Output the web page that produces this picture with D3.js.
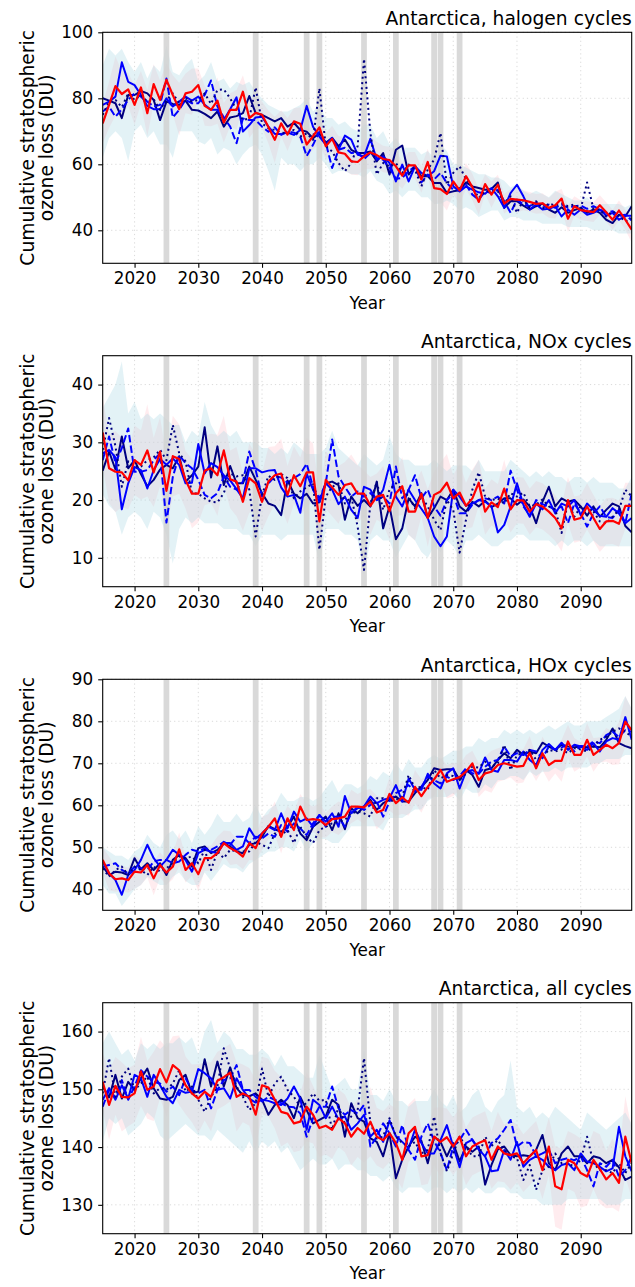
<!DOCTYPE html>
<html>
<head>
<meta charset="utf-8">
<script src="https://cdn.jsdelivr.net/npm/d3@7"></script>
<style>
  body { margin: 0; background: #fff; }
  svg { display: block; font-family: "DejaVu Sans", sans-serif; }
</style>
</head>
<body>
<svg id="chart" width="635" height="1287"></svg>
<script>
// ---------------------------------------------------------------
// Cumulative stratospheric ozone loss over Antarctica, 2015-2098
// ---------------------------------------------------------------
const startYear = 2015, endYear = 2098;
const years = d3.range(startYear, endYear + 1);
const xTickValues = [2020, 2030, 2040, 2050, 2060, 2070, 2080, 2090];
const eventYears = [2025, 2039, 2047, 2049, 2056, 2061, 2067, 2068, 2071];

const titles = ["Antarctica, halogen cycles", "Antarctica, NOx cycles",
                "Antarctica, HOx cycles", "Antarctica, all cycles"];
const yDomains = [[30, 100], [5, 45], [35, 90], [125, 165]];
const yTickValues = [[40, 60, 80, 100], [10, 20, 30, 40],
                     [40, 50, 60, 70, 80, 90], [130, 140, 150, 160]];

// ---- halogen cycles ----
const haloNavy = [80,79.3,78.5,74,81,81,82.2,81.5,79.5,73.4,
  79,78.3,78,79.3,76.5,76.3,75.3,74,76,71.4,
  74.2,74.6,75.5,80.7,75.5,75,74,73,74,71.4,
  72.6,70.4,69.9,67.9,69.4,66.5,68,65.5,67.5,64.4,
  63.4,63.4,63.9,60.9,63.4,56.9,64.4,65.7,56.9,59.4,
  56.4,56.4,54.3,54.3,51.3,51.8,52.1,54.5,53.3,52.8,
  52.3,52.5,54.5,46.8,48.8,48.8,47.5,46.3,47.3,48.1,
  46.3,45.3,47,45.3,46.1,46.8,45.3,46.3,45.3,43.2,
  42.2,44.7,44.2,47.3];
const haloBlue = [78,79,80.5,90.9,85,84,81,77.7,76.7,76.7,
  80,77.5,79,80.5,79.3,80.5,78,76.5,76.5,73.4,
  76.7,80.3,69.9,71.9,74.2,74.4,71.4,69.2,69.2,69.6,
  68.9,70.4,77.7,71.4,68.4,66,68,64.4,68.7,67.5,
  62.9,62.4,67.7,61.4,62.4,60.4,54.8,59.9,54.8,59.4,
  57.4,56.4,57.9,62.6,62.4,53.3,51.8,53.3,52.3,51.5,
  51.1,52.8,50.3,46.8,51.3,53.8,50.3,46.3,47.8,46.3,
  46.5,47.3,44.2,46.3,44.7,46.3,44.7,45.3,46.3,44.4,
  45.3,43.2,44.4,44.4];
const haloDashed = [76,77.5,74.4,76.7,79.5,81.5,80.5,79,77.5,78,
  86,74.2,76.5,79.5,78.5,78.5,81,85.4,77.5,74.2,
  71.4,66.4,73.9,73.4,73.4,71.4,69.9,71.2,68.9,69.9,
  69.6,68.4,62.5,65.9,69.9,66.5,58.9,64.4,65,63.4,
  63.6,61.6,63.4,61.9,61.4,58.9,55.6,55.9,57.9,59.4,
  54.5,56.9,55.4,57.4,54.3,52.3,52.8,53.8,50.8,49.3,
  51.8,51.3,52.3,48.8,45.3,49.3,47.8,47.3,48.5,46.8,
  47.8,46.8,47.8,46.8,47.3,47.5,46.5,47.3,46.3,45.3,
  45.8,44.4,44.7,43];
const haloDotted = [75,79,79.5,77.3,81.5,79.5,81,79,79.7,76.5,
  79.5,81.5,78.5,80,79,79.5,81.5,78.3,82.5,82.7,
  80,76.5,73.4,73.9,83.3,72.4,70.9,70.4,69.6,69.4,
  70.4,68.4,69.4,67.4,83,65.5,63.9,60.4,57.9,60.4,
  65.5,91.9,69.5,56.9,60.4,59.4,60.4,57.4,59.9,58.4,
  53.3,58.4,61.4,69.5,53.8,57.4,59.4,55.4,53.3,49.8,
  51.8,51.8,51.8,48.3,50.3,45.3,49.3,46.8,48.8,46.5,
  48.1,47.5,48.1,47.3,47.8,46.5,54.5,46.5,46.3,44.2,
  45.8,44.4,42.7,43.7];
const haloRed = [72.4,78,83.7,81.3,82.7,78,83.3,75.5,84.3,79.5,
  85.6,81,76.7,81.5,82,84,77.7,76.5,79.3,72.6,
  76.5,76.5,82,74,75.6,75,71.3,67.4,72.4,69,
  73,72.3,66,68.5,71.2,65.5,67.7,63.6,63.2,60.9,
  60.7,62.4,63.6,62.8,61.6,61.3,59.4,56.6,59.7,59.7,
  55.4,60.7,52.8,52.5,51,54.8,52.1,56.4,53.1,48.6,
  54,50.8,53.8,48.1,49.5,49.3,49.1,48.6,48,48.2,
  46.8,47.6,49.6,43.5,47.3,46.1,45.8,45.5,47.6,45.5,
  43.2,46,43.2,40.2];
const haloRedSpread = [6,7,9,7,5,6,5,7,6,6, 5,6,8,6,7,5,6,5,7,6,
  5,6,5,6,5,4,5,7,4,5, 4,5,4,4,5,4,4,5,5,4, 4,4,5,4,4,4,5,4,4,4,
  4,4,5,4,5,4,4,4,4,4, 3,4,3,3,3,4,3,3,3,3, 3,4,3,4,3,3,3,3,3,3, 3,3,3,4];
const haloBandHi = [90,95,93,95,91,88,91,86,90,88, 96,88,87,90,92,85,87,91,85,86,
  83,85,84,85,82,80,78,77,76,76, 77,78,80,76,78,74,74,72,73,71,
  70,72,72,68,70,66,68,65,65,65, 63,64,62,66,64,60,60,59,58,57,
  57,56,56,55,53,54,52,51,52,51, 50,52,51,50,49,49,50,48,48,48, 48,48,47,48];
const haloBandLo = [62,68,70,68,61,70,72,68,70,66, 66,62,70,70,70,67,66,68,63,65,
  64,60,63,65,66,63,58,52,62,60, 60,58,60,60,62,60,57,58,58,57,
  57,56,58,55,54,51,52,50,52,52, 50,50,48,48,49,48,46,47,46,44,
  45,46,46,43,44,44,43,43,43,42, 42,42,42,41,41,41,41,40,40,40, 40,39,39,39];

// ---- NOx cycles ----
const noxNavy = [25.1,28.4,25.3,31,25.5,26.9,24.5,22.4,23.5,25.3,
  26.1,25.5,27.6,23.2,24.3,25.8,32.6,23.9,29.3,22.6,
  25.9,22.9,22.9,25.8,23.5,21.2,19.4,19,17.4,23.4,
  21.1,20.3,21.1,19.4,19.6,22.9,23.2,22.6,16.6,20.6,
  19,20,18.9,23.2,15.1,18.9,13.2,15.1,20.3,18.9,
  21.2,16.9,18.6,20.6,20,21.8,18.9,18,19.7,18.9,
  19.9,18.8,19.4,20.3,20.3,19.2,20.1,18.9,16,19.7,
  22.3,18.9,20.3,19.7,20,18.9,17.3,18.9,17.1,18.3,
  19.4,18.9,15.5,14.4];
const noxBlue = [28.1,28.7,27.4,18.4,22.9,25.7,25.2,22,25.2,27.1,
  26.1,27.2,26.1,22.9,23,29.7,24.6,26.4,25.7,24.3,
  23.4,21.9,20.3,25.5,25.5,24.8,25.1,25.2,22.2,20.6,
  20.9,17.8,24.6,21.8,19.7,22.9,21.8,19.3,20.6,18.3,
  16.9,22.3,21.8,20,21.8,26.1,20.6,18.9,21.8,20,
  18.5,16.9,13.7,12,13.7,21.8,20.6,19,19.4,20,
  19.7,18.9,14.4,15.7,18.9,22.9,19.2,17.1,19.4,18.4,
  20,17.7,19.4,18.9,20,17.4,19.4,18.3,17.3,17.1,
  18.6,17.7,16,16.9];
const noxDashed = [26.9,31,26.4,29,32.4,24.9,24.9,25.2,26.9,28.1,
  16.1,24,27.8,26.4,25.5,23.5,20.9,20.3,21.2,24.1,
  22.3,21.8,23.2,28.4,25.2,20.6,22.9,24.1,23.9,23,
  23.8,24.5,26.3,22.3,20.3,22.9,30.5,24.1,22.3,20.6,
  21.5,20.6,21.2,20,20.6,19.4,25.8,20.3,21.8,24.3,
  20.3,21.8,18.9,17.3,20,21.1,17.7,17.7,19.2,20,
  20.3,20,20.6,19.4,25.1,21.8,18.9,17.4,20,19.3,
  18.9,18.3,18.9,16,19.4,17.7,15.4,17.7,18.9,17.1,
  16.9,18.3,16,21.2];
const noxDotted = [28.7,34.2,29.3,22.3,26.7,25.8,25.8,26.9,27.4,28.7,
  26.9,33,28.1,26.7,21.2,21.1,20.3,19.7,19.6,21.2,
  24.6,24.1,24.3,21.8,13.7,20.9,24.2,23.5,24.5,23.8,
  20.3,21.5,22.2,22.9,11.4,20.6,22.3,22.9,19.4,20.6,
  15.4,7.9,19.4,23.2,18.3,21.8,22.9,21.8,20.6,18.6,
  20.6,18.9,16.6,14.8,20,18.3,10.9,16.6,21.8,24.8,
  20.6,20,20.3,19.4,21.2,20.6,21.3,18.9,19.2,20.1,
  18.9,18.4,14.3,19.7,17.1,18.9,18.3,18,16.3,16,
  17.1,18.3,21.8,20.6];
const noxRed = [31.7,25.5,24.9,24.8,23.4,26.9,26.1,28.6,24.8,28.4,
  21.6,27.6,27.1,23.5,21.1,21.1,25.1,25.5,24.3,28.6,
  23.6,23.2,19.7,23.8,22.9,19.7,23.2,24.3,24.6,20.9,
  24.3,22.4,24.8,24.8,16.3,23.5,22.2,20.9,22.6,22.9,
  21.1,21.1,19,20.6,20.9,18.1,21.2,22.4,18,18,
  21.1,16.9,20.9,21.5,23,20.3,21.3,19,20.3,23,
  18,19.6,18.8,22,18.4,20,19.9,18,19.3,18.9,
  18,16.9,15.1,20,16.6,16.9,18.9,16.9,15,16.3,
  16.4,15.9,19,19];
const noxRedSpread = [6,6,7,6,5,6,6,8,6,6, 6,7,6,5,6,5,6,6,7,6,
  5,6,5,6,5,5,6,5,6,5, 5,5,6,5,5,5,5,5,4,5, 5,4,5,4,5,5,4,5,4,5,
  4,5,4,5,5,4,5,4,5,4, 4,4,4,5,4,4,4,4,4,4, 4,4,4,4,4,4,4,4,4,4, 4,4,4,4];
const noxBandHi = [36,38,40,44,35,37,34,35,34,35, 34,33,33,30,32,31,37,33,31,32,
  31,32,30,30,30,29,29,28,29,28, 30,29,28,28,28,29,32,29,28,27,
  26,28,27,26,27,31,28,27,27,26, 26,26,27,26,25,26,26,26,25,27,
  25,25,25,25,27,26,25,24,25,24, 25,24,24,23,24,24,23,24,23,23, 23,22,22,24];
const noxBandLo = [21,19,18,14,17,18,17,15,18,17, 14,9,15,17,16,17,16,16,16,15,
  15,15,14,14,12,14,14,14,13,14, 14,14,14,14,9,15,15,15,14,14,
  13,7,13,14,13,13,10,12,14,13, 11,10,12,11,13,12,10,13,13,14,
  13,12,12,13,13,14,14,13,13,13, 13,12,13,12,13,13,12,13,12,12, 12,12,12,12];

// ---- HOx cycles ----
const hoxNavy = [45.4,43.4,44.2,44,43.4,47.4,44.8,46.2,44.6,46.2,
  43.4,47,48.2,47.4,45.4,49.8,50.2,48.6,49.4,51,
  50.2,49,48.6,50.6,51,52.5,55.1,54.3,53.7,54.9,
  57.3,53.3,51.7,54.9,56.1,57.3,54.1,58.1,54.3,59.3,
  58.1,59.7,61.3,58.9,60.5,61.3,62.1,60.9,60.9,62.9,
  64.4,66,68.8,68.4,68.6,68.6,66,68.4,67.2,64.4,
  68.4,68.8,70.8,72.4,71.2,73.2,72,72.8,72.4,74.9,
  74,73.2,74.4,74,73.8,74,73.8,74,73.8,75.6,
  78.3,74.8,74.1,73.6];
const hoxBlue = [46.6,43.8,42.2,38.7,43.4,44.6,47,50.6,47.4,45.4,
  47,49.4,48.2,47,44.2,48.6,49.4,49,48.6,51,
  51,49.4,50.2,54.5,52.1,53.3,54.9,54.1,58.1,54.5,
  58.5,56.1,56.9,54.9,57.7,56.1,58.1,54.9,62.2,58.1,
  59.3,59.7,62.1,60.5,61.3,61.7,64.8,60.9,66.4,63.7,
  63.7,67.5,65.2,64,67.6,68.8,64,68,68.4,67.6,
  71.4,68.4,68,70.8,70.8,70.4,72.8,70.8,69.6,73.2,
  74.6,73.2,74.9,73.2,74.4,74,73.2,74.8,72.8,75.2,
  76,75.6,81,75.6];
const hoxDashed = [45.4,45.8,46.2,44.6,43.8,45.4,45,44.6,46.6,47,
  47,46.2,46.6,48.2,49.4,49,49.8,49.4,50.2,51.3,
  50.6,52.5,52.5,51,52.5,52.1,53.3,52.5,55.3,53.7,
  55.7,54.5,52.9,55.7,57.7,54.9,57.3,57.3,54.9,58.1,
  59.7,58.9,60.1,60.9,57.3,60.9,62.9,63.7,64.8,63.3,
  64.4,66.8,66,65.2,66.8,66,67,68.8,67.6,67.5,
  69.2,70.4,70.8,74,71.6,72.4,72,73.2,72.8,71.2,
  74,73.2,73.8,74.4,72.8,74.1,74,75.2,74.8,76.7,
  77.5,76.3,77.9,77.5];
const hoxDotted = [45,43,44.6,45.4,43.4,45.4,44.6,43.4,45.4,44.2,
  45,46.2,47.8,47.4,47.8,46.2,49.4,44.6,49,47.4,
  49.4,49,49,49,51.3,50.6,49.8,53.3,52.9,54.1,
  51,54.9,52.5,51,54.1,54.9,55.7,56.1,56.5,58.1,
  58.5,58.1,57.3,61.7,61.7,60.9,61.3,62.1,67.2,64,
  64.4,63.7,68.4,66.4,67.2,67,66,67.6,69.2,69,
  70.4,69.2,70,74.4,68.4,72,72.4,73.2,70.8,71.6,
  73.2,72.8,73.3,72.4,73.6,73.3,72.8,74,75.6,76.3,
  77.5,78.3,77.5,76.3];
const hoxRed = [47,43.8,42.4,42.6,42.2,44.2,44,45.8,42.6,45.8,
  44,45.4,49.5,44.6,46.2,43.6,47.4,47.4,48.6,51,
  49.8,49,47.8,51,49.8,53.3,54.9,56.9,52.5,56.9,
  54.1,59.7,56.5,56.7,56.5,55.3,56.7,56.9,57.3,59.7,
  59.7,59.5,60.9,58.3,58.9,62.7,60.5,61.9,60.6,64.4,
  62.2,64.4,66.2,68.4,65.6,66.2,66.7,68,70,66,
  67.6,68,69.6,70,69.6,69.2,69.4,72.5,68.8,72.4,
  69.6,70.6,70.6,75.2,72,72,75.6,72,73.2,74.4,
  73.6,74.8,79.9,77.9];
const hoxRedSpread = [3,4,3,3,3,4,3,3,4,3, 3,3,4,3,3,4,3,3,4,3,
  4,3,3,4,3,4,3,4,4,3, 4,3,4,3,4,3,3,4,3,4, 3,4,3,4,3,4,3,4,3,4,
  4,3,4,3,4,4,3,4,3,4, 4,5,4,4,3,4,4,4,3,4, 4,3,5,4,4,3,4,4,3,4, 4,5,6,5];
const hoxBandHi = [50,49,48,48,47,49,50,53,51,50, 53,54,52,54,51,55,53,55,58,56,
  56,58,56,57,60,57,59,60,63,61, 61,62,62,61,62,64,66,63,65,65,
  64,65,67,66,68,67,70,68,71,69, 69,71,72,71,72,73,73,74,74,76,
  75,76,76,78,77,78,77,78,77,78, 79,78,79,80,79,79,80,80,80,81, 82,83,86,83];
const hoxBandLo = [41,39,39,36,38,40,41,43,42,41, 41,43,44,42,41,41,44,42,44,46,
  45,45,44,46,47,48,49,49,50,50, 49,52,49,51,52,52,51,51,53,55,
  55,55,55,55,54,57,57,57,58,59, 59,61,62,62,62,63,61,64,63,63,
  65,64,66,66,67,67,66,68,67,68, 68,69,68,69,69,69,69,70,70,71, 71,71,72,72];

// ---- all cycles ----
const allNavy = [150.5,148.6,152.5,148.4,151.3,149.9,151.9,153.6,150.2,148.4,
  148.2,148.7,151.6,152.5,149.3,149.6,155.2,150.5,154.8,150.5,
  153.8,150.2,149,148.8,149.3,148.2,145.6,147.3,148.2,147.3,
  145,148.7,146.4,144.1,144.7,145.3,148.2,147.3,141.8,147.6,
  145,144.4,141.5,140.9,138.4,142.4,134.6,137.8,140.1,141.8,
  141.1,137.2,141.8,140.9,138.4,140.7,137.5,140.1,139.2,140.1,
  133.5,136.9,139.6,140.1,138.6,138.4,138.6,138.4,139.5,142.1,
  137.2,136,138.9,140.1,138.4,138.4,137.2,138.4,138.1,137.2,
  137.8,136.5,134.3,134.9];
const allBlue = [148.2,150.2,148.2,150.7,148.4,152.5,151.9,148.7,152.5,150.7,
  148.7,147.6,149.9,149.4,149.6,153.5,152.8,151.9,149.9,150.2,
  148.4,151.9,149.9,148.4,147.7,148.2,148,147.6,147.3,148.4,
  150.5,148.4,143,148.2,147.3,145,147,144.8,145.3,143,
  144.1,145.6,141.8,143,140.9,144.6,141.9,140.9,139.8,143,
  140.7,138.9,138.9,141.2,143.8,140.1,136.5,140.7,141.3,139.6,
  138.4,135.8,136,139.5,137.8,140.9,136.6,137.8,138.4,137.8,
  136.6,136,136.9,137.2,136,138.9,137.5,137.2,136.6,135.8,
  136.3,143.5,138.4,135.8];
const allDashed = [147,149.9,148.6,151.6,148.2,150.5,153.3,152.2,151.3,151,
  149.6,150.5,149,151.9,149.9,149.3,149.9,146.7,149.9,151.6,
  151.9,154.2,149.9,149.9,148.7,147.9,148.7,148.2,147.6,147,
  146.9,145.8,141.8,145,147,147,150.5,146.7,145.6,146.4,
  145.8,147.3,140.1,141.8,144.1,142.4,140.1,143.8,139.5,137.8,
  141.8,144.1,141,139,136,140.1,141.2,143,141.2,139.6,
  138.4,140.7,141.5,143,144.7,140.1,140.9,140.7,138.4,138.9,
  139.5,137.2,137.8,138.1,137.7,138.4,136,133.2,137.2,136.6,
  137.8,134.9,136,138.4];
const allDotted = [149.3,155.4,148.7,152.2,153.6,149.9,151,152.2,149.3,150.2,
  149.9,151,153.3,149.6,150.5,148.2,146.1,148.7,150.5,157.1,
  153.6,150.5,148.7,146.4,147.6,153.6,148.7,151,152.2,149.9,
  148.7,147,147.6,149.3,148,148.2,143,147,144.1,145.3,
  146.4,155.4,144.1,141.5,141.8,145,141.8,140.7,140.1,140.9,
  138.9,139.5,145.3,138.9,135.8,138.9,141.8,140.1,138.4,138.4,
  141.8,140.2,141.2,139.5,138.4,138.1,134.3,136.9,132.6,136,
  136.6,138.9,137.2,137.2,136.6,137.8,141.8,137.2,136,136,
  135.5,137.2,135.5,137.2];
const allRed = [151.3,147.3,150.6,148.7,148.6,149.3,153.1,149.9,150.5,153.5,
  151.2,154.2,153.3,150.7,149.3,148.4,149.6,148.7,151.5,152.1,
  152.9,148.7,149.3,148.7,145.6,150.7,150.3,148.2,146.1,145.8,
  144.1,144.4,147,145.6,143.3,143.7,143,145,144.1,141.8,
  143.3,142.3,144.4,141.8,141.2,142.4,140.7,137.8,142.4,143.5,
  138.4,138.6,141.8,140.9,141.7,140.1,141.8,138.4,140.1,140.7,
  141.2,137.8,140.1,138.9,138.6,138.9,137.2,138.4,139.5,136,
  140.1,133.2,132.7,137.8,137.2,135.5,134.9,137.8,136.2,134.4,
  135.5,133.8,141.8,137.2];
const allRedSpread = [5,6,5,6,5,5,6,5,6,5, 6,5,6,5,5,6,5,6,5,5,
  5,6,5,5,6,5,5,5,6,5, 5,5,6,5,5,5,5,5,5,5, 5,5,6,5,5,5,6,5,5,5,
  5,5,5,6,5,5,5,5,5,5, 5,5,6,5,6,5,5,5,5,5, 5,7,7,5,5,6,5,5,6,5, 6,5,7,6];
const allBandHi = [158,160,158,156,157,155,158,157,158,157, 158,158,159,158,159,156,160,162,158,160,
  159,157,157,156,156,157,156,154,156,154, 154,153,152,152,156,153,150,151,152,150,
  150,157,149,149,148,150,148,148,147,148, 148,148,150,148,147,149,146,147,149,150,
  147,146,148,149,155,147,146,147,145,146, 145,147,146,145,144,143,146,145,144,143, 144,145,146,144];
const allBandLo = [141,145,144,145,142,143,144,146,145,142, 141,142,143,144,143,142,142,141,143,142,
  141,140,139,141,139,141,140,141,139,140, 138,136,137,138,137,137,138,136,137,137,
  136,136,135,135,134,135,133,132,133,133, 133,132,133,133,132,133,132,133,132,133,
  132,132,133,133,132,132,131,131,131,130, 130,130,130,131,131,131,131,131,131,130, 130,130,131,131];

// Assemble per-panel tables from the arrays above
const panelSeries = [
  { navy: haloNavy, blue: haloBlue, dashed: haloDashed, dotted: haloDotted, red: haloRed,
    redSpread: haloRedSpread, bandLo: haloBandLo, bandHi: haloBandHi },
  { navy: noxNavy, blue: noxBlue, dashed: noxDashed, dotted: noxDotted, red: noxRed,
    redSpread: noxRedSpread, bandLo: noxBandLo, bandHi: noxBandHi },
  { navy: hoxNavy, blue: hoxBlue, dashed: hoxDashed, dotted: hoxDotted, red: hoxRed,
    redSpread: hoxRedSpread, bandLo: hoxBandLo, bandHi: hoxBandHi },
  { navy: allNavy, blue: allBlue, dashed: allDashed, dotted: allDotted, red: allRed,
    redSpread: allRedSpread, bandLo: allBandLo, bandHi: allBandHi }
];

// ---------------- layout ----------------
const svg = d3.select("#chart");
const plotLeft = 102.7, plotRight = 631.7;
const panelTops = [32.3, 355.7, 679.3, 1002.7];
const panelHeight = 231;
const tickFont = 16.8, labelFont = 18.7, xLabelFont = 16.8;

const x = d3.scaleLinear().domain([startYear, endYear]).range([plotLeft, plotRight]);

const lineStyles = [
  { key: "navy",   color: "#000080", dash: null,      width: 2.0 },
  { key: "blue",   color: "#0000ff", dash: null,      width: 2.0 },
  { key: "dashed", color: "#0000ff", dash: "7.4,3.2", width: 2.0 },
  { key: "dotted", color: "#000080", dash: "2,3.3",   width: 2.0 },
  { key: "red",    color: "#ff0000", dash: null,      width: 2.2 }
];

panelSeries.forEach((s, i) => {
  const top = panelTops[i], bottom = top + panelHeight;
  const y = d3.scaleLinear().domain(yDomains[i]).range([bottom, top]);
  const g = svg.append("g");

  const clipId = "clip" + i;
  svg.append("clipPath").attr("id", clipId)
    .append("rect").attr("x", plotLeft).attr("y", top)
    .attr("width", plotRight - plotLeft).attr("height", panelHeight);

  // grid
  const grid = g.append("g").attr("stroke", "#d0d0d0").attr("stroke-width", 0.8)
    .attr("stroke-dasharray", "1.2,3");
  grid.selectAll("line.gx").data(xTickValues).join("line")
    .attr("x1", d => x(d)).attr("x2", d => x(d)).attr("y1", top).attr("y2", bottom);
  grid.selectAll("line.gy").data(yTickValues[i]).join("line")
    .attr("x1", plotLeft).attr("x2", plotRight).attr("y1", d => y(d)).attr("y2", d => y(d));

  const body = g.append("g").attr("clip-path", `url(#${clipId})`);

  // spread of the red run
  const pinkArea = d3.area()
    .x((d, k) => x(years[k]))
    .y0((d, k) => y(s.red[k] - s.redSpread[k]))
    .y1((d, k) => y(s.red[k] + s.redSpread[k]));
  body.append("path").datum(s.red).attr("d", pinkArea)
    .attr("fill", "#ffc0cb").attr("fill-opacity", 0.3);

  // ensemble envelope of the blue runs
  const blueArea = d3.area()
    .x((d, k) => x(years[k]))
    .y0((d, k) => y(s.bandLo[k]))
    .y1((d, k) => y(s.bandHi[k]));
  body.append("path").datum(s.bandLo).attr("d", blueArea)
    .attr("fill", "#add8e6").attr("fill-opacity", 0.34);

  // event years
  body.selectAll("rect.ev").data(eventYears).join("rect")
    .attr("x", d => x(d - 0.45)).attr("width", x(startYear + 0.9) - x(startYear))
    .attr("y", top).attr("height", panelHeight)
    .attr("fill", "#cfcfcf").attr("fill-opacity", 0.8);

  // runs
  lineStyles.forEach(st => {
    const line = d3.line().x((d, k) => x(years[k])).y(d => y(d));
    body.append("path").datum(s[st.key]).attr("d", line)
      .attr("fill", "none").attr("stroke", st.color)
      .attr("stroke-width", st.width)
      .attr("stroke-linejoin", "round")
      .attr("stroke-dasharray", st.dash);
  });

  // frame
  g.append("rect").attr("x", plotLeft).attr("y", top)
    .attr("width", plotRight - plotLeft).attr("height", panelHeight)
    .attr("fill", "none").attr("stroke", "#000").attr("stroke-width", 1.1);

  // axes
  const xAxis = g.append("g").attr("transform", `translate(0,${bottom})`)
    .call(d3.axisBottom(x).tickValues(xTickValues).tickFormat(d3.format("d"))
      .tickSize(4.5).tickPadding(4.5));
  const yAxis = g.append("g").attr("transform", `translate(${plotLeft},0)`)
    .call(d3.axisLeft(y).tickValues(yTickValues[i]).tickSize(4.5).tickPadding(5));
  [xAxis, yAxis].forEach(a => {
    a.select(".domain").remove();
    a.selectAll("line").attr("stroke", "#000").attr("stroke-width", 1.1);
    a.selectAll("text").attr("font-size", tickFont)
      .attr("font-family", "DejaVu Sans").attr("fill", "#000");
  });

  // title
  g.append("text").attr("x", plotRight).attr("y", top - 7.3)
    .attr("text-anchor", "end").attr("font-size", labelFont).text(titles[i]);

  // axis labels
  g.append("text").attr("x", (plotLeft + plotRight) / 2).attr("y", bottom + 45.5)
    .attr("text-anchor", "middle").attr("font-size", xLabelFont).text("Year");
  const cy = (top + bottom) / 2;
  g.append("text").attr("transform", `translate(33.5,${cy}) rotate(-90)`)
    .attr("text-anchor", "middle").attr("font-size", labelFont)
    .text("Cumulative stratospheric");
  g.append("text").attr("transform", `translate(53,${cy}) rotate(-90)`)
    .attr("text-anchor", "middle").attr("font-size", labelFont)
    .text("ozone loss (DU)");
});
</script>
</body>
</html>
